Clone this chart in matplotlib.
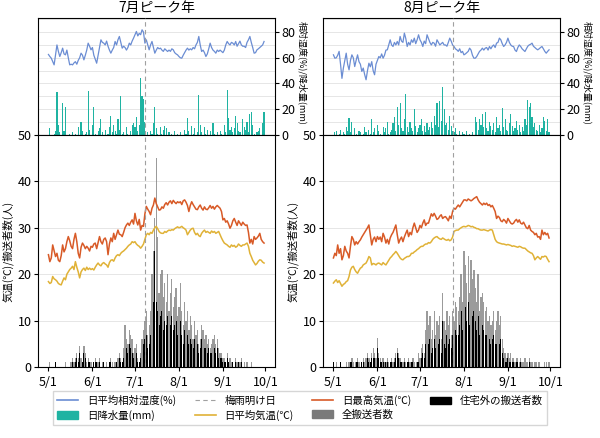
import numpy as np
import matplotlib
matplotlib.use("Agg")
import matplotlib.pyplot as plt
from matplotlib.lines import Line2D
from matplotlib.patches import Patch

plt.rcParams["font.family"] = ["Noto Sans CJK JP", "DejaVu Sans"]

# day 0 = 5/1 ... day 152 = 9/30
tick_days = [0, 31, 61, 92, 123, 153]
tick_labels = ["5/1", "6/1", "7/1", "8/1", "9/1", "10/1"]
titles = ["7月ピーク年", "8月ピーク年"]
rainy_end = [68, 84]  # 梅雨明け日 (7/8, 7/24)

# ---- 7月ピーク年 ----
tmax7 = [
    24.2, 22.7, 23.5, 26.3, 25.0, 23.8, 24.5, 23.0, 22.7, 24.0,
    26.3, 24.8, 25.5, 27.0, 28.1, 27.2, 26.0, 25.5, 27.5, 28.8,
    27.0, 24.5, 23.5, 25.8, 26.7, 26.2, 25.5, 26.0, 25.6, 25.0,
    26.0, 25.8, 26.5, 26.7, 25.5, 26.8, 28.1, 27.0, 26.5, 27.5,
    27.8, 27.0, 24.2, 26.5, 27.8, 27.0, 28.8, 27.5, 28.5, 29.5,
    28.6, 28.5, 28.1, 29.0, 30.0, 30.6, 31.0, 30.5, 31.2, 31.7,
    30.8, 33.1, 31.5, 30.6, 31.8, 29.5, 30.5, 30.3, 33.0, 34.6,
    34.0, 33.5, 32.8, 34.2, 34.9, 36.4, 35.2, 34.5, 33.8, 33.9,
    34.5, 34.2, 35.0, 35.4, 34.9, 35.5, 35.8, 35.2, 35.9, 35.5,
    35.2, 35.6, 35.4, 35.6, 35.0, 35.8, 36.0, 35.5, 34.8, 33.5,
    34.8, 35.6, 35.0, 34.5, 34.0, 33.9, 34.5, 34.9, 34.2, 33.8,
    34.5, 34.0, 33.9, 34.3, 34.8, 34.2, 34.6, 34.0, 34.5, 34.8,
    34.5, 34.2, 33.5, 31.7, 32.0, 31.2, 31.5, 30.8, 29.9, 30.5,
    31.5, 32.0, 31.2, 30.5, 31.5, 31.0, 30.5, 31.2, 30.8, 30.5,
    30.6, 29.0, 26.7, 27.5, 26.5, 28.1, 27.5, 27.8, 28.2, 28.8,
    27.5, 27.0, 26.7,
]
tmean7 = [
    18.4, 18.0, 18.2, 19.5, 19.0, 18.8, 18.5, 18.0, 17.8, 17.7,
    18.5, 19.2, 18.8, 20.0, 20.5, 21.0, 21.3, 21.7, 21.0, 22.7,
    21.5, 20.5, 19.2, 20.5, 21.0, 21.3, 20.8, 21.5, 21.0, 21.3,
    21.0, 21.2, 20.9, 21.5, 22.0, 22.4, 22.0, 21.8, 22.3, 22.5,
    22.2, 22.0, 21.5, 22.5, 23.0, 23.1, 22.8, 23.5, 24.0, 24.2,
    24.0, 24.5, 24.8, 25.0, 25.3, 25.6, 26.0, 26.3, 26.5, 27.0,
    26.8, 27.0, 26.5, 26.2, 26.0, 25.6, 26.0, 26.5, 27.5, 28.5,
    28.8, 28.5, 29.0, 28.8, 29.5, 30.0, 30.3, 29.8, 29.2, 28.9,
    28.8, 28.8, 29.2, 29.0, 29.3, 29.5, 29.4, 29.6, 29.5, 29.8,
    30.0, 30.2, 30.0, 30.1, 30.3, 30.0, 29.8, 29.5, 28.5, 29.0,
    29.5, 29.8, 29.9, 29.0, 28.5, 28.8, 28.3, 28.1, 28.8, 29.2,
    29.5, 29.0, 29.2, 29.0, 28.8, 29.3, 29.0, 29.2, 28.8, 29.0,
    29.2, 28.5, 27.8, 27.2, 26.7, 26.5, 26.3, 26.0, 25.8, 26.3,
    26.0, 26.2, 25.8, 26.0, 26.5, 26.2, 26.0, 26.3, 26.3, 26.5,
    26.7, 26.0, 24.5, 23.8, 23.0, 22.5, 22.0, 22.3, 22.8, 23.1,
    23.0, 22.6, 22.4,
]
hum7 = [
    62.6, 61, 59.7, 57, 54.5, 62, 70, 65, 61, 64,
    67.5, 63, 62.3, 66, 60, 54.5, 55, 54.5, 56, 57,
    55, 58, 60, 63.6, 62, 58.4, 62, 66, 71.4, 69,
    66.2, 68, 62, 59, 55.8, 62, 68, 74, 72, 71.4,
    70, 73, 69, 66, 63.6, 66, 68, 72.7, 70, 74,
    76.6, 72, 67.5, 69, 68, 66, 68, 71.4, 70, 73,
    75.3, 78, 80.5, 77, 79, 78, 81.8, 80, 71.4, 74,
    70, 66.2, 70, 72.7, 68, 63.6, 66, 68, 67, 67.5,
    66, 65, 67, 66, 64.9, 66, 65, 67, 66.2, 64,
    63, 62.3, 61, 60, 59.7, 62, 64, 66, 67.5, 66,
    67, 66.2, 68, 67, 70, 72, 76.6, 70, 64.9, 66,
    64, 61, 63, 67, 71.4, 68, 66, 65, 63.6, 66,
    64.9, 66, 65, 64, 66, 70, 72.7, 71, 70, 72,
    71.4, 70, 72.7, 69, 71, 73, 70, 69, 69, 68,
    72, 74, 76.6, 72, 68, 63.6, 64, 66.2, 67, 68,
    69, 70, 72.7,
]
rain7 = [
    0, 5, 0, 0, 1, 3, 33, 8, 2, 0,
    25, 3, 22, 0, 0, 1, 0, 2, 0, 1,
    0, 6, 0, 10, 3, 0, 1, 2, 34, 4,
    0, 8, 22, 1, 0, 3, 5, 12, 2, 0,
    4, 0, 1, 6, 15, 2, 8, 3, 1, 12,
    4, 30, 1, 2, 0, 6, 1, 0, 3, 8,
    9, 6, 14, 3, 8, 44, 30, 28, 10, 0,
    2, 0, 3, 1, 9, 22, 5, 1, 0, 6,
    1, 4, 7, 5, 0, 2, 0, 1, 0, 3,
    0, 1, 0, 2, 0, 0, 4, 1, 13, 3,
    0, 7, 1, 5, 0, 2, 31, 8, 2, 0,
    6, 1, 4, 0, 3, 0, 9, 1, 0, 2,
    0, 3, 1, 0, 8, 2, 35, 13, 4, 6,
    2, 5, 15, 9, 3, 2, 0, 12, 6, 4,
    10, 2, 16, 18, 8, 1, 0, 2, 3, 5,
    0, 9, 18,
]
all7 = [
    0, 1, 0, 0, 0, 1, 0, 0, 0, 0,
    0, 0, 1, 0, 0, 0, 1, 2, 1, 2,
    3, 2, 4.5, 2, 1, 4.5, 3, 1, 2, 1,
    1, 0, 1, 2, 1, 1, 2, 0, 1, 1,
    0, 1, 0, 1, 2, 1, 0, 1, 1, 2,
    3, 2, 1, 4, 9, 6, 5, 8, 7, 6,
    3, 4, 5, 2, 1, 3, 6, 8, 10, 12,
    7, 9, 12, 20, 25, 32, 45, 28, 16, 20,
    21, 15, 18, 14, 20, 12, 16, 19, 13, 15,
    17, 11, 13, 18, 12, 9, 14, 10, 12, 8,
    11, 9, 6, 10, 7, 8, 5, 6, 9, 8,
    6, 7, 5, 6, 4, 5, 6, 7, 5, 6,
    4, 3, 3, 2, 2, 1, 3, 1, 2, 1,
    1, 0, 2, 1, 1, 1, 2, 0, 1, 0,
    1, 0, 0, 1, 0, 0, 0, 0, 0, 0,
    0, 0, 0,
]
out7 = [
    0, 0, 0, 0, 0, 1, 0, 0, 0, 0,
    0, 0, 0, 0, 0, 0, 0, 1, 1, 1,
    2, 1, 3, 1, 1, 3, 2, 0, 1, 1,
    0, 0, 1, 1, 1, 0, 1, 0, 0, 1,
    0, 0, 0, 1, 1, 0, 0, 0, 1, 1,
    2, 1, 1, 2, 5, 4, 3, 5, 4, 3,
    2, 2, 3, 1, 1, 2, 3, 5, 6, 7,
    4, 5, 7, 10, 14, 25, 14, 12, 9, 11,
    12, 8, 10, 9, 11, 7, 9, 11, 8, 9,
    10, 7, 8, 10, 7, 5, 8, 6, 7, 5,
    6, 5, 4, 6, 4, 5, 3, 4, 6, 5,
    4, 4, 3, 4, 3, 3, 4, 4, 3, 4,
    2, 2, 2, 1, 1, 1, 2, 1, 1, 0,
    1, 0, 1, 0, 1, 0, 1, 0, 0, 0,
    0, 0, 0, 0, 0, 0, 0, 0, 0, 0,
    0, 0, 0,
]

# ---- 8月ピーク年 ----
tmax8 = [
    23.5, 24.5, 24.0, 26.3, 24.5, 25.5, 23.1, 24.0, 26.0, 25.0,
    24.5, 23.5, 26.0, 28.1, 27.5, 26.3, 27.0, 26.5, 27.0, 27.4,
    28.0, 28.5, 29.0, 29.5, 30.0, 30.6, 28.5, 26.3, 27.5, 28.0,
    27.0, 28.1, 27.5, 28.0, 27.0, 28.8, 28.0, 26.7, 27.5, 26.5,
    27.8, 28.5, 29.0, 29.8, 30.6, 28.5, 26.7, 27.5, 28.0, 27.0,
    28.0, 28.8, 29.5, 28.1, 29.0, 28.5, 30.0, 31.0, 30.0, 29.0,
    29.5, 30.5, 30.0, 31.0, 31.7, 30.5, 31.0, 31.0, 32.0, 33.0,
    32.5, 33.1, 32.5, 31.8, 32.0, 32.5, 32.8, 32.0, 32.3, 32.4,
    32.0, 31.5, 32.5, 32.0, 33.5, 34.2, 34.0, 34.5, 34.9, 34.5,
    35.0, 35.5, 36.0, 36.0, 35.8, 36.2, 36.0, 35.8, 36.0, 36.3,
    36.5, 36.7, 36.0, 35.5, 35.2, 34.9, 35.3, 35.0, 35.3, 34.8,
    35.0, 34.5, 34.8, 34.2, 33.5, 32.0, 32.5, 32.2, 31.5, 31.3,
    31.8, 31.5, 31.0, 32.0, 31.5, 31.0, 30.8, 31.0, 31.5, 31.8,
    31.2, 31.7, 31.0, 30.8, 31.2, 30.6, 30.0, 29.8, 30.5, 29.5,
    29.2, 29.0, 28.5, 28.8, 28.0, 28.1, 27.5, 29.5, 28.5, 29.0,
    28.5, 28.8, 27.8,
]
tmean8 = [
    18.1, 18.5, 18.8, 18.2, 18.6, 18.0, 17.4, 17.8, 18.0, 18.4,
    18.6, 19.5, 20.9, 21.5, 21.7, 21.0, 20.5, 20.2, 20.8, 21.3,
    21.5, 22.0, 22.2, 22.4, 23.0, 23.8, 23.5, 22.0, 22.3, 22.2,
    22.0, 22.3, 22.4, 22.2, 22.0, 22.5, 22.2, 22.0, 22.5, 23.0,
    23.5, 23.8, 24.2, 24.5, 24.9, 24.5, 24.0, 23.5, 23.2, 23.1,
    23.4, 23.6, 23.8, 23.8, 24.0, 24.5, 24.5, 24.8, 25.0, 25.3,
    25.5, 25.8, 26.0, 26.0, 26.3, 26.5, 26.5, 26.8, 26.7, 27.0,
    27.5, 27.8, 28.0, 28.1, 27.8, 27.6, 27.5, 27.8, 27.6, 27.4,
    27.3, 27.5, 27.2, 27.4, 28.0, 29.2, 29.4, 29.5, 29.5, 29.8,
    30.0, 30.2, 30.3, 30.2, 30.3, 30.5, 30.4, 30.2, 30.3, 30.1,
    30.0, 29.8, 29.8, 29.6, 29.5, 29.5, 29.6, 29.5, 29.4, 29.3,
    29.5, 29.6, 29.5, 28.5, 27.5, 27.0, 26.8, 26.7, 26.6, 26.5,
    26.5, 26.4, 26.3, 26.4, 26.3, 26.2, 26.0, 26.1, 26.0, 25.9,
    25.8, 26.0, 25.9, 25.7, 25.6, 25.6, 25.3, 25.0, 24.8, 24.6,
    24.5, 24.0, 23.1, 23.5, 23.8, 23.5, 23.2, 23.8, 23.7, 23.9,
    23.8, 23.2, 22.7,
]
hum8 = [
    62.3, 59.7, 60, 62, 65, 55, 44, 52, 58, 63.6,
    55, 50.6, 58, 62.3, 60, 53.2, 58, 62.3, 57, 55,
    49.4, 52, 47, 42.9, 50, 55.8, 53, 57, 50, 46.8,
    55, 58, 61, 60, 63, 59.7, 62, 66, 66.2, 70,
    74, 70, 68.8, 72, 70, 72.7, 70, 76.6, 73, 72,
    79.2, 75, 68.8, 72, 70, 74, 72, 75.3, 71, 74,
    77.9, 74, 72, 68.8, 73, 71, 77.9, 75, 72, 70,
    72, 71.4, 69, 74, 72, 70, 71, 72, 70, 70,
    69, 72, 75.3, 73, 70, 68.8, 67, 66.2, 65, 67,
    64, 65, 62.3, 63, 64, 65, 67.5, 66, 62, 59.7,
    59.7, 61, 63, 65, 66, 67.5, 66, 67.5, 68, 66,
    68.8, 67, 69, 70, 68, 71.4, 72, 75.3, 74, 71,
    68.8, 70, 72, 75.3, 72, 70, 69, 68.8, 66, 64.9,
    68, 70, 68.8, 67, 66, 64.9, 67, 69, 70, 70.5,
    71.4, 69, 68, 67, 66.2, 67, 68, 68.8, 67, 65,
    63.6, 65, 66.2,
]
rain8 = [
    0, 2, 3, 0, 1, 4, 0, 2, 1, 6,
    3, 13, 2, 10, 0, 5, 1, 0, 3, 2,
    0, 1, 6, 2, 0, 4, 1, 12, 2, 5,
    0, 8, 3, 1, 0, 6, 2, 5, 10, 1,
    2, 4, 9, 14, 3, 22, 8, 25, 5, 3,
    12, 32, 6, 2, 10, 5, 3, 20, 7, 2,
    5, 8, 12, 3, 7, 2, 9, 4, 6, 10,
    5, 15, 8, 25, 6, 26, 11, 37, 20, 8,
    9, 4, 15, 7, 3, 2, 5, 1, 0, 3,
    0, 2, 1, 0, 3, 0, 1, 0, 2, 0,
    14, 10, 4, 12, 8, 16, 6, 18, 5, 3,
    10, 7, 4, 9, 2, 14, 5, 8, 3, 21,
    6, 12, 4, 3, 9, 16, 7, 3, 5, 11,
    4, 8, 2, 6, 3, 12, 8, 27, 22, 25,
    14, 6, 9, 4, 3, 8, 2, 5, 14, 11,
    3, 12, 2,
]
all8 = [
    1, 0, 1, 0, 0, 1, 0, 0, 0, 1,
    0, 1, 1, 2, 1, 0, 1, 2, 1, 0,
    1, 2, 1, 2, 3, 2, 1, 3, 4, 3,
    2, 6.3, 3, 2, 1, 2, 1, 1, 2, 1,
    1, 2, 1, 2, 3, 4, 3, 2, 1, 1,
    2, 1, 1, 2, 1, 1, 2, 1, 0, 1,
    3, 2, 4, 5, 3, 8, 12, 9, 11, 6,
    8, 12, 7, 10, 9, 11, 6, 16, 10, 8,
    12, 9, 11, 7, 12, 10, 14, 13, 12, 15,
    20, 14, 25, 22, 18, 24, 16, 23, 19, 21,
    17, 14, 20, 12, 15, 16, 14, 12, 13, 10,
    11, 9, 10, 12, 8, 10, 12, 9, 11, 6,
    4, 3, 2, 3, 2, 3, 2, 2, 1, 2,
    2, 1, 2, 1, 1, 2, 1, 1, 2, 1,
    1, 0, 1, 1, 0, 1, 0, 0, 0, 1,
    1, 0, 1,
]
out8 = [
    1, 0, 0, 0, 0, 1, 0, 0, 0, 0,
    0, 0, 1, 1, 0, 0, 1, 1, 0, 0,
    1, 1, 0, 1, 2, 1, 1, 2, 2, 2,
    1, 4, 2, 1, 1, 1, 0, 1, 1, 0,
    1, 1, 0, 1, 2, 3, 2, 1, 1, 0,
    1, 0, 1, 1, 0, 1, 1, 0, 0, 1,
    1, 1, 2, 3, 2, 5, 7, 5, 6, 3,
    4, 6, 4, 5, 5, 6, 3, 10, 5, 4,
    7, 5, 6, 4, 7, 6, 8, 7, 7, 9,
    12, 8, 15, 13, 10, 14, 9, 13, 11, 12,
    10, 8, 11, 7, 9, 9, 8, 7, 7, 6,
    6, 5, 6, 7, 5, 5, 7, 5, 6, 3,
    2, 1, 1, 2, 1, 1, 1, 1, 0, 1,
    1, 0, 1, 0, 0, 1, 0, 0, 1, 0,
    0, 0, 0, 0, 0, 0, 0, 0, 0, 0,
    0, 0, 1,
]

C_HUM = "#6b8dd3"
C_RAIN = "#1fb3a2"
C_TMAX = "#d85a27"
C_TMEAN = "#e0b237"
C_ALL = "#7a7a7a"
C_OUT = "#000000"
C_DASH = "#a0a0a0"
C_GRID = "#e6e6e6"

panels = [
    (tmax7, tmean7, hum7, rain7, all7, out7),
    (tmax8, tmean8, hum8, rain8, all8, out8),
]

fig = plt.figure(figsize=(6.0, 4.38), dpi=100)
lefts = [0.063, 0.538]
w = 0.396

for k, (tmax, tmean, hum, rain, allc, outc) in enumerate(panels):
    days = np.arange(len(tmax))
    ax_t = fig.add_axes([lefts[k], 0.692, w, 0.267])
    ax_b = fig.add_axes([lefts[k], 0.162, w, 0.530], sharex=ax_t)

    # top: humidity + rain on right axis
    ax_t.bar(days, rain, width=0.8, color=C_RAIN, zorder=2)
    ax_t.plot(days, hum, color=C_HUM, lw=0.9, zorder=3)
    ax_t.axvline(rainy_end[k], color=C_DASH, lw=0.8, ls=(0, (4, 3)), zorder=4)
    ax_t.set_ylim(0, 91)
    ax_t.yaxis.tick_right()
    ax_t.yaxis.set_label_position("right")
    ax_t.set_yticks([0, 20, 40, 60, 80])
    ax_t.set_yticks(range(10, 91, 10), minor=True)
    ax_t.tick_params(axis="y", which="minor", length=0)
    ax_t.grid(axis="y", which="both", color=C_GRID, lw=0.7, zorder=0)
    ax_t.set_axisbelow(True)
    ax_t.set_ylabel("相対湿度(%)/降水量(mm)", rotation=270, fontsize=6.5, va="center")
    ax_t.yaxis.set_label_coords(1.112, 0.53)
    ax_t.tick_params(axis="x", bottom=False, labelbottom=False)
    ax_t.tick_params(axis="y", labelsize=9, length=3, pad=1.5)
    ax_t.set_title(titles[k], fontsize=10, pad=4)

    # bottom: temperatures + transports
    ax_b.bar(days, allc, width=0.9, color=C_ALL, alpha=0.75, zorder=2)
    ax_b.bar(days, outc, width=0.6, color=C_OUT, zorder=3)
    ax_b.plot(days, tmax, color=C_TMAX, lw=1.1, zorder=4)
    ax_b.plot(days, tmean, color=C_TMEAN, lw=1.1, zorder=4)
    ax_b.axvline(rainy_end[k], color=C_DASH, lw=0.8, ls=(0, (4, 3)), zorder=5)
    ax_b.set_ylim(0, 50)
    ax_b.set_yticks([0, 10, 20, 30, 40, 50])
    ax_b.grid(axis="y", color=C_GRID, lw=0.7, zorder=0)
    ax_b.set_axisbelow(True)
    ax_b.set_xlim(-7.5, 160)
    ax_b.set_xticks(tick_days)
    ax_b.set_xticklabels(tick_labels)
    ax_b.tick_params(labelsize=9, length=3)
    ax_b.tick_params(axis="y", pad=1.5)
    ax_b.set_ylabel("気温(℃)/搬送者数(人)", fontsize=7.5, labelpad=3)

handles = [
    Line2D([], [], color=C_HUM, lw=1.2),
    Patch(color=C_RAIN),
    Line2D([], [], color=C_DASH, lw=0.8, ls=(0, (4, 3))),
    Line2D([], [], color=C_TMEAN, lw=1.2),
    Line2D([], [], color=C_TMAX, lw=1.2),
    Patch(color=C_ALL),
    Patch(color=C_OUT),
]
labels = ["日平均相対湿度(%)", "日降水量(mm)", "梅雨明け日", "日平均気温(℃)",
          "日最高気温(℃)", "全搬送者数", "住宅外の搬送者数"]
fig.legend(handles, labels, loc="lower center", bbox_to_anchor=(0.5, 0.018), ncol=4,
           fontsize=7.5, frameon=True, edgecolor="#cccccc", fancybox=False,
           handlelength=2.0, handletextpad=0.85, columnspacing=1.8, labelspacing=0.35,
           borderpad=0.4)

fig.savefig("out.png", dpi=100)
